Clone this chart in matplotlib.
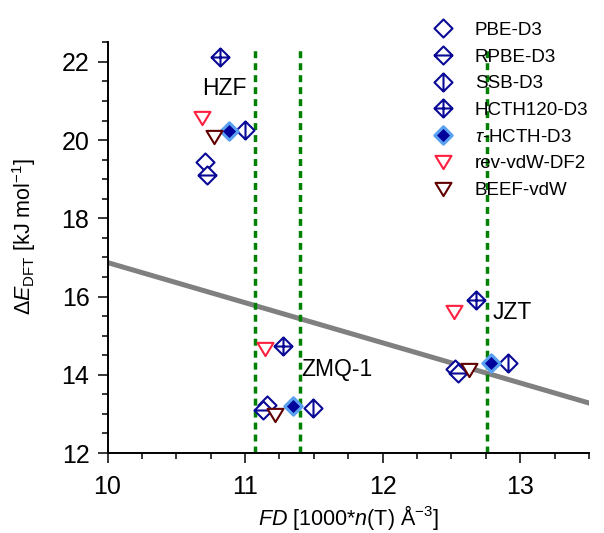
import numpy as np
import matplotlib
matplotlib.use("Agg")
import matplotlib.pyplot as plt
from matplotlib.path import Path
from matplotlib.ticker import MultipleLocator

plt.rcParams['font.family'] = ['Liberation Sans', 'DejaVu Sans']
plt.rcParams['mathtext.fontset'] = 'custom'
plt.rcParams['mathtext.rm'] = 'Liberation Sans'
plt.rcParams['mathtext.it'] = 'Liberation Sans:italic'

# framework order: HZF, ZMQ-1, JZT
pbe_x = [10.709, 11.162, 12.527]
pbe_y = [19.43, 13.22, 14.16]
rpbe_x = [10.721, 11.130, 12.551]
rpbe_y = [19.12, 13.10, 14.05]
ssb_x = [11.00, 11.492, 12.915]
ssb_y = [20.27, 13.16, 14.29]
hcth120_x = [10.818, 11.279, 12.680]
hcth120_y = [22.12, 14.73, 15.90]
tau_x = [10.886, 11.347, 12.787]
tau_y = [20.24, 13.21, 14.29]
rev_x = [10.685, 11.145, 12.520]
rev_y = [20.57, 14.67, 15.60]
beef_x = [10.777, 11.218, 12.630]
beef_y = [20.09, 12.97, 14.12]

fd_lines = [11.07, 11.40, 12.76]
fit_x = [10.0, 13.5]
fit_y = [16.87, 13.28]

labels = ["HZF", "ZMQ-1", "JZT"]
label_x = [10.69, 11.41, 12.80]
label_y = [21.31, 14.14, 15.59]

# marker shapes
M, L, C = Path.MOVETO, Path.LINETO, Path.CLOSEPOLY
dia = [(0, 1), (1, 0), (0, -1), (-1, 0), (0, 1)]
dia_codes = [M, L, L, L, C]
m_plain = Path(dia, dia_codes)
m_hor = Path(dia + [(-1, 0), (1, 0)], dia_codes + [M, L])
m_ver = Path(dia + [(0, 1), (0, -1)], dia_codes + [M, L])
m_cross = Path(dia + [(-1, 0), (1, 0), (0, 1), (0, -1)], dia_codes + [M, L, M, L])
m_tri = Path([(-1, 0.83), (1, 0.83), (0, -0.83), (-1, 0.83)], [M, L, L, C])

navy = '#0A0A96'

fig = plt.figure(figsize=(6.04, 5.33), dpi=100)
ax = fig.add_axes([0.178, 0.150, 0.797, 0.7706])

ax.plot(fit_x, fit_y, color='#808080', lw=3.6, zorder=1)
for xv in fd_lines:
    ax.plot([xv, xv], [12, 22.3], color='#008000', lw=2.5, dashes=(2, 1.45), zorder=1)

kw = dict(ls='none', ms=13, mew=1.5, mfc='white', zorder=3)
ax.plot(pbe_x, pbe_y, marker=m_plain, mec=navy, label='PBE-D3', **kw)
ax.plot(rpbe_x, rpbe_y, marker=m_hor, mec=navy, label='RPBE-D3', **kw)
ax.plot(ssb_x, ssb_y, marker=m_ver, mec=navy, label='SSB-D3', **kw)
ax.plot(hcth120_x, hcth120_y, marker=m_cross, mec=navy, label='HCTH120-D3', **kw)
ax.plot(tau_x, tau_y, ls='none', marker=m_plain, ms=12.5, mew=2.2, mfc='#00009A',
        mec='#5AA0F0', label=r'$\tau$-HCTH-D3', zorder=3)
ax.plot(rev_x, rev_y, ls='none', marker=m_tri, ms=11.5, mew=1.5, mfc='white',
        mec='#FF2040', label='rev-vdW-DF2', zorder=3)
ax.plot(beef_x, beef_y, ls='none', marker=m_tri, ms=11.5, mew=1.5, mfc='white',
        mec='#600000', label='BEEF-vdW', zorder=3)

for t, xv, yv in zip(labels, label_x, label_y):
    ax.text(xv, yv, t, fontsize=16.5, va='center', ha='left', zorder=4)

ax.set_xlim(10, 13.5)
ax.set_ylim(12, 22.5)
ax.xaxis.set_major_locator(MultipleLocator(1))
ax.xaxis.set_minor_locator(MultipleLocator(0.25))
ax.yaxis.set_major_locator(MultipleLocator(2))
ax.yaxis.set_minor_locator(MultipleLocator(0.5))
ax.spines['top'].set_visible(False)
ax.spines['right'].set_visible(False)
for s in ['left', 'bottom']:
    ax.spines[s].set_linewidth(1.4)
ax.tick_params(which='major', direction='out', length=7, width=1.1, labelsize=18)
ax.tick_params(axis='x', which='major', pad=9)
ax.tick_params(axis='y', which='major', pad=6)
ax.tick_params(which='minor', direction='out', length=4, width=1.1)

ax.set_xlabel(r'$FD$ [1000*$n$(T) Å$^{-3}$]', fontsize=15.5)
ax.set_ylabel(r'$\Delta E_{\rm DFT}$ [kJ mol$^{-1}$]', fontsize=15.5)
ax.xaxis.set_label_coords(0.5, -0.121)
ax.yaxis.set_label_coords(-0.145, 0.528)

leg = ax.legend(loc='upper left', bbox_to_anchor=(431.75 / 604, 0.959),
                bbox_transform=fig.transFigure,
                frameon=False, numpoints=1, fontsize=13.5, handlelength=1.2,
                handletextpad=1.1, labelspacing=0.51, borderaxespad=0, borderpad=0)

fig.savefig('out.png', dpi=100)
